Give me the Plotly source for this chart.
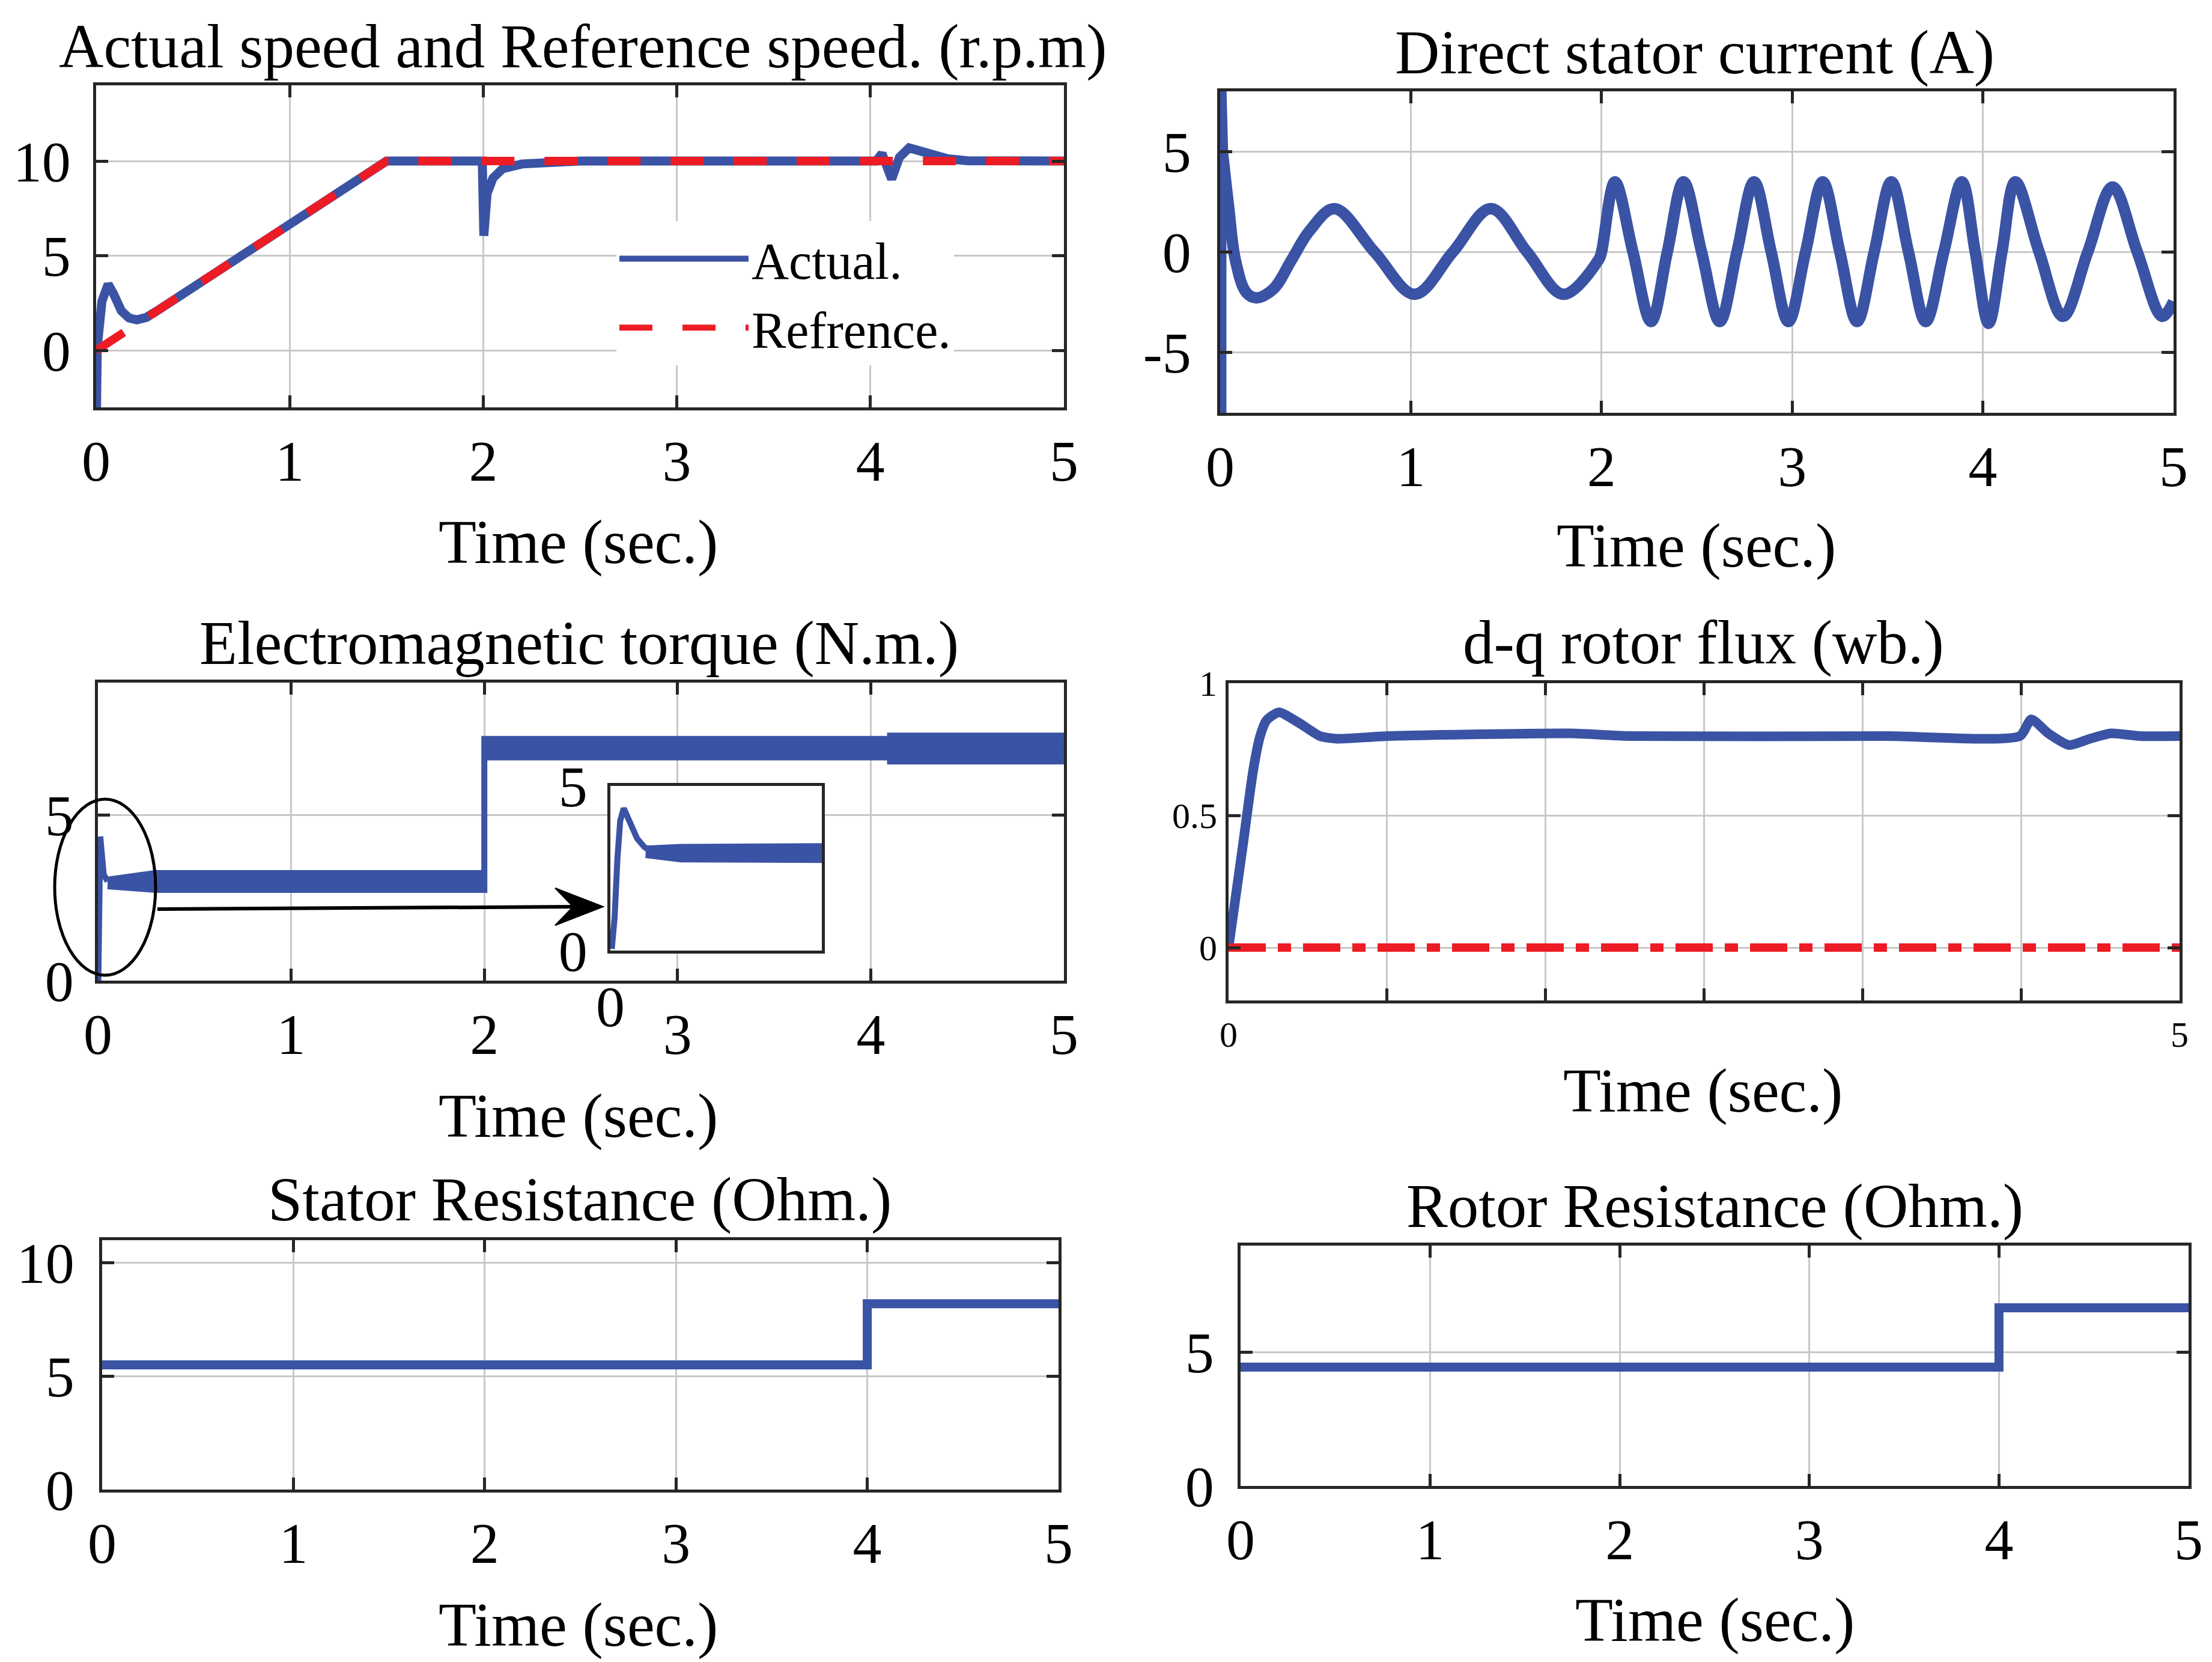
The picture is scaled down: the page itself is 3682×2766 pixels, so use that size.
import plotly.graph_objects as go

W, H = 3682, 2766
BLUE = '#3A53A4'
RED = '#ED1C24'
FONT = 'Liberation Serif'
AXC = '#262626'
GRID = '#c8c8c8'

# ---------------- data ----------------
time_ticks = [0, 1, 2, 3, 4, 5]

speed_ref_t = [0, 1.5, 5]
speed_ref = [0, 10, 10]
speed_t = [0.002, 0.002, 0.006, 0.03, 0.062, 0.09, 0.13, 0.17, 0.21, 0.26, 0.32, 1.5,
           1.995, 2.003, 2.02, 2.05, 2.1, 2.2, 2.35, 2.5,
           4.03, 4.06, 4.11, 4.15, 4.2, 4.29, 4.4, 4.5, 5.0]
speed_act = [0, -3.2, 0.2, 2.6, 3.5, 3.0, 2.1, 1.72, 1.62, 1.75, 2.13, 10,
             10, 6.06, 8.3, 9.1, 9.6, 9.85, 9.95, 10,
             10, 10.4, 9.05, 10.2, 10.7, 10.45, 10.12, 10.02, 10]

current_t = [0.003, 0.003, 0.012, 0.044, 0.08, 0.136, 0.19, 0.28, 0.375, 0.47, 0.60,
             0.81, 1.02, 1.22, 1.42,
             1.61, 1.80, 1.985, 2.0, 2.07, 2.165, 2.26, 2.345, 2.43, 2.525, 2.62, 2.71, 2.80,
             2.89, 2.98, 3.07, 3.16, 3.25, 3.34, 3.43, 3.52, 3.61, 3.70, 3.795, 3.89, 3.96,
             4.03, 4.10, 4.17, 4.295, 4.42, 4.55, 4.68, 4.81, 4.94, 5.0]
current_d = [-8.2, 8.2, 5.0, 2.3, -0.4, -2.0, -2.28, -1.83, -0.38, 1.07, 2.16,
             0, -2.1, 0, 2.16,
             0, -2.1, -0.38, 0, 3.5, 0, -3.46, 0, 3.5, 0, -3.46, 0, 3.5,
             0, -3.46, 0, 3.5, 0, -3.46, 0, 3.5, 0, -3.46, 0, 3.5, 0,
             -3.55, 0, 3.5, 0, -3.2, 0, 3.24, 0, -3.2, -2.46]
current_ticks = [-5, 0, 5]
current_ticktext = ['-5', '0', '5']

torque_start_t = [0.002, 0.012, 0.03, 0.05]
torque_start = [0, 4.35, 3.2, 3.0]
torque_band_t = [0.05, 0.3, 2.0, 2.0, 4.1, 4.1, 5.0]
torque_upper = [3.05, 3.25, 3.25, 7.3, 7.3, 7.4, 7.4]
torque_lower = [2.85, 2.74, 2.74, 6.74, 6.74, 6.62, 6.62]

inset_t = [0.002, 0.006, 0.01, 0.014, 0.019, 0.024, 0.03, 0.038, 0.048, 0.058]
inset_torque = [0.05, 1.0, 2.8, 3.95, 4.32, 4.1, 3.75, 3.4, 3.15, 3.0]
inset_band_t = [0.05, 0.1, 0.3]
inset_upper = [3.1, 3.15, 3.17]
inset_lower = [2.9, 2.77, 2.75]

flux_t = [0, 0.074, 0.129, 0.166, 0.2, 0.265, 0.37, 0.48, 0.57, 0.84, 1.8, 2.1, 3.46,
          4.16, 4.22, 4.31, 4.42, 4.53, 4.64, 4.79, 5.0]
flux_d = [0, 0.38, 0.668, 0.80, 0.86, 0.89, 0.85, 0.80, 0.79, 0.80, 0.81, 0.80, 0.80,
          0.80, 0.863, 0.81, 0.766, 0.79, 0.81, 0.80, 0.80]
flux_q_t = [0, 5]
flux_q = [0, 0]
flux_ticks = [0, 5/6, 10/6, 15/6, 20/6, 25/6, 5]
flux_ticktext = ['0', '', '', '', '', '', '5']

rs_t = [0, 4, 4, 5]
rs = [5.5, 5.5, 8.2, 8.2]
rr_t = [0, 4, 4, 5]
rr = [4.45, 4.45, 6.67, 6.67]

# ---------------- layout geometry (pixels) ----------------
def px_x(x):
    return x / W

def px_y(y):
    return 1 - y / H

panels = {
    1: dict(x=(152, 1763), y=(134, 670)),
    2: dict(x=(2023, 3610), y=(144, 679)),
    3: dict(x=(155, 1763), y=(1128, 1624)),
    4: dict(x=(2037, 3620), y=(1129, 1657)),
    5: dict(x=(162, 1754), y=(2056, 2471)),
    6: dict(x=(2057, 3635), y=(2065, 2465)),
    7: dict(x=(1008, 1360), y=(1300, 1574)),
}

fig = go.Figure()

def tfont(size=100):
    return dict(family=FONT, size=size, color='black')

def axis(n, rng, tickvals, ticktext=None, kind='x', size=96, standoff=2, grid=True):
    p = panels[n]
    if kind == 'x':
        dom = [px_x(p['x'][0]), px_x(p['x'][1])]
    else:
        dom = [px_y(p['y'][1]), px_y(p['y'][0])]
    d = dict(domain=dom, range=rng, tickvals=tickvals, showline=True, linecolor=AXC,
             linewidth=5, mirror='ticks', ticks='inside', ticklen=20, tickwidth=5,
             tickcolor=AXC, showgrid=grid, gridcolor=GRID, gridwidth=3, zeroline=False,
             tickfont=tfont(size), ticklabelstandoff=standoff, fixedrange=True,
             automargin=False)
    if ticktext is not None:
        d['ticktext'] = ticktext
    return d

lay = {}
lay['xaxis'] = axis(1, [0, 5], time_ticks, kind='x', standoff=2)
lay['yaxis'] = axis(1, [-3, 14], [0, 5, 10], kind='y', standoff=18)
lay['xaxis2'] = axis(2, [0, 5], time_ticks, kind='x', standoff=2)
lay['yaxis2'] = axis(2, [-8, 8], current_ticks, current_ticktext, kind='y', standoff=24)
lay['xaxis3'] = axis(3, [0, 5], time_ticks, kind='x', standoff=2)
lay['yaxis3'] = axis(3, [0, 9], [0, 5], kind='y', standoff=16)
lay['xaxis4'] = axis(4, [0, 5], flux_ticks, flux_ticktext, kind='x', size=60, standoff=0)
lay['yaxis4'] = axis(4, [-0.2, 1], [0, 0.5, 1], kind='y', size=60, standoff=2)
lay['xaxis5'] = axis(5, [0, 5], time_ticks, kind='x', standoff=2)
lay['yaxis5'] = axis(5, [0, 11], [0, 5, 10], kind='y', standoff=22)
lay['xaxis6'] = axis(6, [0, 5], time_ticks, kind='x', standoff=2)
lay['yaxis6'] = axis(6, [0, 9], [0, 5], kind='y', standoff=20)
ix = axis(7, [0, 0.3], [0], ['0'], kind='x', standoff=6, grid=False)
iy = axis(7, [0, 5], [0, 5], ['0', '5'], kind='y', standoff=14, grid=False)
for a in (ix, iy):
    a.update(ticks='', mirror=True)
lay['xaxis7'] = ix
lay['yaxis7'] = iy
for i in range(1, 8):
    s = '' if i == 1 else str(i)
    lay['xaxis' + s]['anchor'] = 'y' + s
    lay['yaxis' + s]['anchor'] = 'x' + s

# ---------------- traces ----------------
LW = 15
fig.add_trace(go.Scatter(x=speed_t, y=speed_act, mode='lines', name='Actual.',
                         line=dict(color=BLUE, width=LW), xaxis='x', yaxis='y'))
fig.add_trace(go.Scatter(x=speed_ref_t, y=speed_ref, mode='lines', name='Refrence.',
                         line=dict(color=RED, width=14, dash='55px,50px'), xaxis='x', yaxis='y'))

fig.add_trace(go.Scatter(x=current_t[:3], y=current_d[:3], mode='lines', showlegend=False,
                         line=dict(color=BLUE, width=19), xaxis='x2', yaxis='y2'))
fig.add_trace(go.Scatter(x=current_t[2:], y=current_d[2:], mode='lines', showlegend=False,
                         line=dict(color=BLUE, width=19, shape='spline', smoothing=1.0),
                         xaxis='x2', yaxis='y2'))

fig.add_trace(go.Scatter(x=torque_band_t + torque_band_t[::-1],
                         y=torque_upper + torque_lower[::-1], mode='lines', fill='toself',
                         fillcolor=BLUE, showlegend=False,
                         line=dict(color=BLUE, width=10), xaxis='x3', yaxis='y3'))
fig.add_trace(go.Scatter(x=torque_start_t, y=torque_start, mode='lines', showlegend=False,
                         line=dict(color=BLUE, width=10), xaxis='x3', yaxis='y3'))

fig.add_trace(go.Scatter(x=flux_t, y=flux_d, mode='lines', showlegend=False,
                         line=dict(color=BLUE, width=16, shape='spline', smoothing=0.6),
                         xaxis='x4', yaxis='y4'))
fig.add_trace(go.Scatter(x=flux_q_t, y=flux_q, mode='lines', showlegend=False,
                         line=dict(color=RED, width=14, dash='62px,20px,22px,20px'),
                         xaxis='x4', yaxis='y4'))

fig.add_trace(go.Scatter(x=rs_t, y=rs, mode='lines', showlegend=False,
                         line=dict(color=BLUE, width=LW), xaxis='x5', yaxis='y5'))
fig.add_trace(go.Scatter(x=rr_t, y=rr, mode='lines', showlegend=False,
                         line=dict(color=BLUE, width=LW), xaxis='x6', yaxis='y6'))

fig.add_trace(go.Scatter(x=inset_band_t + inset_band_t[::-1],
                         y=inset_upper + inset_lower[::-1], mode='lines', fill='toself',
                         fillcolor=BLUE, showlegend=False,
                         line=dict(color=BLUE, width=10), xaxis='x7', yaxis='y7'))
fig.add_trace(go.Scatter(x=inset_t, y=inset_torque, mode='lines', showlegend=False,
                         line=dict(color=BLUE, width=10), xaxis='x7', yaxis='y7'))

# ---------------- annotations ----------------
ann = []
def text(x, y, s, size=103):
    ann.append(dict(x=px_x(x), y=px_y(y), xref='paper', yref='paper', text=s,
                    showarrow=False, xanchor='center', yanchor='middle', font=tfont(size)))

text(963, 70, 'Actual speed and Reference speed. (r.p.m)')
text(2813, 79, 'Direct stator current (A)')
text(956, 1062, 'Electromagnetic torque (N.m.)')
text(2827, 1061, 'd-q rotor flux (wb.)')
text(957, 1988, 'Stator Resistance (Ohm.)')
text(2846, 1999, 'Rotor Resistance (Ohm.)')
text(955, 894, 'Time (sec.)')
text(2815, 900, 'Time (sec.)')
text(955, 1849, 'Time (sec.)')
text(2826, 1807, 'Time (sec.)')
text(955, 2696, 'Time (sec.)')
text(2846, 2688, 'Time (sec.)')

# ---------------- shapes ----------------
shapes = []
# inset background
shapes.append(dict(type='rect', xref='x7 domain', yref='y7 domain', x0=0, x1=1, y0=0, y1=1,
                   fillcolor='white', line=dict(width=0), layer='below'))
# ellipse
shapes.append(dict(type='circle', xref='paper', yref='paper',
                   x0=px_x(83), x1=px_x(251), y0=px_y(1615), y1=px_y(1322),
                   line=dict(color='black', width=5), layer='above'))
# arrow
shapes.append(dict(type='line', xref='paper', yref='paper',
                   x0=px_x(254), y0=px_y(1505), x1=px_x(950), y1=px_y(1501),
                   line=dict(color='black', width=6), layer='above'))
hx, hy = 996, 1501
path = 'M {:.5f},{:.5f} L {:.5f},{:.5f} L {:.5f},{:.5f} L {:.5f},{:.5f} Z'.format(
    px_x(hx), px_y(hy), px_x(916), px_y(1470), px_x(946), px_y(hy), px_x(916), px_y(1532))
shapes.append(dict(type='path', xref='paper', yref='paper', path=path,
                   fillcolor='black', line=dict(color='black', width=2), layer='above'))

fig.update_layout(
    template='none',
    width=W, height=H, margin=dict(l=0, r=0, t=0, b=0, pad=0, autoexpand=False),
    paper_bgcolor='white', plot_bgcolor='white',
    font=tfont(100),
    annotations=ann, shapes=shapes,
    showlegend=True,
    legend=dict(x=px_x(1018), y=px_y(360), xanchor='left', yanchor='top',
                bgcolor='white', borderwidth=0, font=tfont(86), itemwidth=215,
                entrywidth=430, tracegroupgap=0),
    **lay,
)

fig.write_html("out.html")
